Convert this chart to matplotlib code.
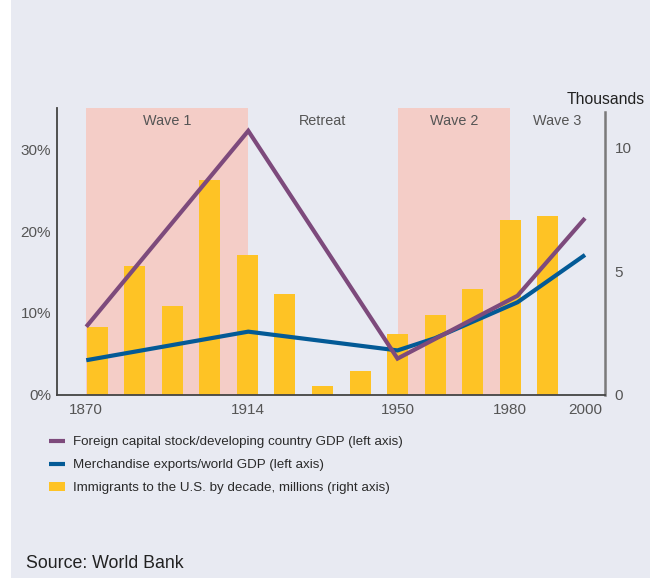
import numpy as np
import matplotlib
matplotlib.use("Agg")
import matplotlib.pyplot as plt
from matplotlib.lines import Line2D
from matplotlib.patches import Rectangle, Patch

# ---- data -------------------------------------------------------------
decades = ["1870s", "1880s", "1890s", "1900s", "1910s", "1920s", "1930s",
           "1940s", "1950s", "1960s", "1970s", "1980s", "1990s"]
immigrants = [2.74, 5.21, 3.59, 8.70, 5.66, 4.08, 0.36, 0.95, 2.45, 3.23,
              4.28, 7.08, 7.24]

capital_years = [1870, 1914, 1950, 1982, 2000]
capital_share = [8.3, 32.3, 4.4, 12.1, 21.6]

exports_years = [1870, 1914, 1950, 1960, 1982, 2000]
exports_share = [4.2, 7.7, 5.4, 6.9, 11.3, 17.1]

periods = [("Wave 1", 1870, 1914, True),
           ("Retreat", 1914, 1950, False),
           ("Wave 2", 1950, 1980, True),
           ("Wave 3", 1980, None, False)]

year_ticks = [1870, 1914, 1950, 1980, 2000]
left_ticks = [0, 10, 20, 30]
right_ticks = [0, 5, 10]

# ---- style ------------------------------------------------------------
BG = "#e8eaf2"
PINK = "#f4cdc7"
YELLOW = "#fec325"
PURPLE = "#7d4a7c"
BLUE = "#035a96"
GREY = "#555555"
DARK = "#222222"
REG = ["Liberation Sans", "DejaVu Sans"]

# the time axis is stretched unevenly between the labelled years
ANCHOR_YEARS = [1850, 1870, 1914, 1950, 1980, 2000, 2020]
ANCHOR_POS = [-2.3, -0.3, 4.02, 8.0, 11.0, 13.0, 15.0]


def fwd(y):
    return np.interp(y, ANCHOR_YEARS, ANCHOR_POS)


def inv(p):
    return np.interp(p, ANCHOR_POS, ANCHOR_YEARS)


XMIN, XMAX = -1.093, 13.533
fig = plt.figure(figsize=(6.5, 5.78), dpi=100, facecolor="white")
fig.add_artist(Rectangle((11 / 650, 0), 1, 1, transform=fig.transFigure,
                         facecolor=BG, edgecolor="none", zorder=-10))

rect = [56.5 / 650, 1 - 394.5 / 578, (605 - 56.5) / 650, (394.5 - 108) / 578]
LEFT_MAX = 35.1
RIGHT_MAX = 11.62

# background bands and period names
ax_bg = fig.add_axes(rect, zorder=0)
ax_bg.set_facecolor("none")
ax_bg.set_xscale("function", functions=(fwd, inv))
ax_bg.set_xlim(inv(XMIN), inv(XMAX))
ax_bg.set_ylim(0, LEFT_MAX)
ax_bg.axis("off")
for name, start, end, shaded in periods:
    end_pos = XMAX if end is None else fwd(end)
    if shaded:
        ax_bg.axvspan(start, end, ymin=0, ymax=1, facecolor=PINK,
                      edgecolor="none")
    mid = inv((fwd(start) + end_pos) / 2)
    ax_bg.text(mid, 0.9557, name, transform=ax_bg.get_xaxis_transform(),
               ha="center", va="center", fontsize=10.4, color=GREY,
               family=REG)

# immigrant bars on the right axis
ax_bar = fig.add_axes(rect, zorder=1)
ax_bar.set_facecolor("none")
ax_bar.bar(np.arange(len(decades)), immigrants, width=0.56, color=YELLOW,
           linewidth=0)
ax_bar.set_xlim(XMIN, XMAX)
ax_bar.set_ylim(0, RIGHT_MAX)
for s in ["left", "top", "bottom"]:
    ax_bar.spines[s].set_visible(False)
ax_bar.spines["right"].set_color("#7a7a7a")
ax_bar.spines["right"].set_linewidth(1.8)
ax_bar.spines["right"].set_bounds(0, 11.47)
ax_bar.set_xticks([])
ax_bar.yaxis.tick_right()
ax_bar.set_yticks(right_ticks)
ax_bar.set_yticklabels([str(t) for t in right_ticks])
ax_bar.tick_params(axis="y", length=0, pad=7, labelsize=11, labelcolor=GREY)
for lab in ax_bar.get_yticklabels():
    lab.set_family(REG)

# share lines on the left axis
ax = fig.add_axes(rect, zorder=2)
ax.set_facecolor("none")
ax.set_xscale("function", functions=(fwd, inv))
ax.set_xlim(inv(XMIN), inv(XMAX))
ax.set_ylim(0, LEFT_MAX)
ax.plot(exports_years, exports_share, color=BLUE, lw=3.0,
        solid_capstyle="butt", solid_joinstyle="miter")
ax.plot(capital_years, capital_share, color=PURPLE, lw=3.0,
        solid_capstyle="butt", solid_joinstyle="miter")
for s in ["top", "right"]:
    ax.spines[s].set_visible(False)
for s in ["left", "bottom"]:
    ax.spines[s].set_color("#444444")
    ax.spines[s].set_linewidth(1.3)
ax.set_xticks(year_ticks)
ax.set_xticklabels([str(t) for t in year_ticks])
ax.xaxis.set_minor_locator(matplotlib.ticker.NullLocator())
ax.set_yticks(left_ticks)
ax.set_yticklabels([f"{t}%" for t in left_ticks])
ax.tick_params(axis="both", length=0, labelsize=11, labelcolor=GREY)
ax.tick_params(axis="x", pad=6)
ax.tick_params(axis="y", pad=4)
for lab in ax.get_xticklabels() + ax.get_yticklabels():
    lab.set_family(REG)

fig.text(645 / 650, 1 - 99 / 578, "Thousands", ha="right", va="center",
         fontsize=11.3, color=DARK, family=REG)

handles = [Line2D([], [], color=PURPLE, lw=3.0, solid_capstyle="butt"),
           Line2D([], [], color=BLUE, lw=3.0, solid_capstyle="butt"),
           Patch(facecolor=YELLOW, edgecolor="none")]
labels = ["Foreign capital stock/developing country GDP (left axis)",
          "Merchandise exports/world GDP (left axis)",
          "Immigrants to the U.S. by decade, millions (right axis)"]
fig.legend(handles, labels, loc="upper left",
           bbox_to_anchor=(49 / 650, 1 - 436 / 578),
           frameon=False, borderpad=0, borderaxespad=0,
           handlelength=1.2, handleheight=0.62, handletextpad=0.6,
           labelspacing=0.83,
           prop={"family": REG, "size": 9.6}, labelcolor="#2a2a2a")

fig.text(26 / 650, 1 - 568.3 / 578, "Source: World Bank", ha="left",
         va="baseline", fontsize=12.8, color=DARK, family=REG)

fig.savefig("out.png", dpi=100, facecolor=fig.get_facecolor())
